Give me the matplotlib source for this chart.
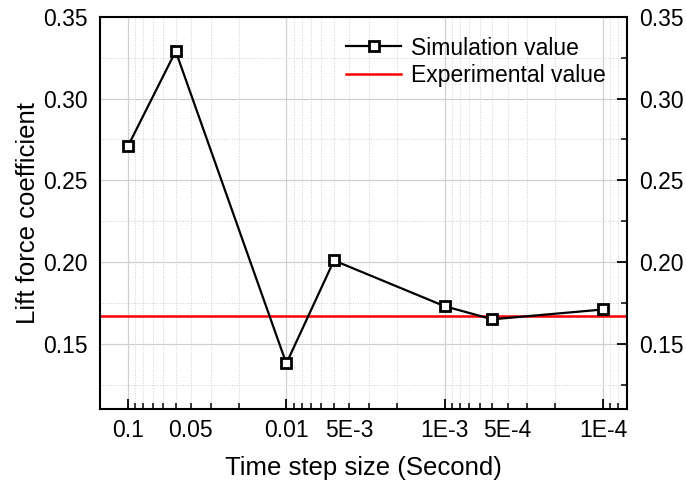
import numpy as np
import matplotlib
matplotlib.use('Agg')
import matplotlib.pyplot as plt
import matplotlib.transforms as mtransforms
from matplotlib.ticker import FixedLocator, LogLocator, MultipleLocator, FuncFormatter, NullFormatter

plt.rcParams['font.family'] = ['Liberation Sans', 'DejaVu Sans']

# Data
time_step = [0.1, 0.05, 0.01, 5e-3, 1e-3, 5e-4, 1e-4]
lift_coef = [0.271, 0.329, 0.138, 0.201, 0.173, 0.165, 0.171]
experimental = 0.167
major_vals = [0.1, 0.01, 1e-3, 1e-4]
major_labels = ['0.1', '0.01', '1E-3', '1E-4']
half_vals = [0.05, 5e-3, 5e-4]
half_labels = ['0.05', '5E-3', '5E-4']

fig = plt.figure(figsize=(6.86, 4.82), dpi=100)
ax = fig.add_axes([0.146, 0.151, 0.768, 0.814])

ax.plot(time_step, lift_coef, color='black', lw=1.6, marker='s', ms=7,
        mfc='white', mec='black', mew=2.0, label='Simulation value', zorder=3)
ax.axhline(experimental, color='red', lw=1.8, label='Experimental value', zorder=2)

ax.set_xscale('log')
ax.set_xlim(0.15, 7.05e-5)
ax.set_ylim(0.11, 0.35)

# decades are major ticks, the rest are minor ticks
ax.xaxis.set_major_locator(FixedLocator(major_vals))
ax.xaxis.set_major_formatter(FuncFormatter(lambda v, p: major_labels[p] if p is not None and p < len(major_labels) else ''))
ax.xaxis.set_minor_locator(LogLocator(base=10, subs=np.arange(2, 10), numticks=20))
ax.xaxis.set_minor_formatter(NullFormatter())

ax.yaxis.set_major_locator(FixedLocator([0.15, 0.20, 0.25, 0.30, 0.35]))
ax.yaxis.set_minor_locator(MultipleLocator(0.025))
ax.yaxis.set_major_formatter(FuncFormatter(lambda v, p: f'{v:.2f}'))

ax.grid(True, which='major', color='#d0d0d0', lw=0.9, ls='-')
ax.grid(True, which='minor', color='#d0d0d0', lw=0.7, ls=':')
ax.set_axisbelow(True)

xpad = 7
ax.tick_params(axis='both', which='both', direction='in', labelsize=16.5)
ax.tick_params(axis='y', which='both', left=False, right=True, labelleft=True, labelright=True)
ax.tick_params(axis='x', which='major', length=7, width=1.3, top=False, pad=xpad)
ax.tick_params(axis='x', which='minor', length=4, width=1.1, top=False, pad=xpad)
ax.tick_params(axis='y', which='major', length=7, width=1.3, pad=9)
ax.tick_params(axis='y', which='minor', length=4, width=1.1)

# the 0.05 / 5E-3 / 5E-4 labels sit a little right of their ticks in the original
trans, va, ha = ax.get_xaxis_text1_transform(xpad)
shift = mtransforms.ScaledTranslation(0.15, 0, fig.dpi_scale_trans)
for v, s in zip(half_vals, half_labels):
    ax.text(v, 0, s, transform=trans + shift, va=va, ha=ha, fontsize=16.5)

for sp in ax.spines.values():
    sp.set_linewidth(1.5)

ax.set_xlabel('Time step size (Second)', fontsize=18.5, labelpad=10)
ax.set_ylabel('Lift force coefficient', fontsize=18.5, labelpad=2)

ax.legend(loc='upper right', bbox_to_anchor=(0.985, 0.985), frameon=False,
          fontsize=16.5, handlelength=2.4, handletextpad=0.4,
          labelspacing=0.2, borderaxespad=0.2)

fig.savefig('out.png', dpi=100)
